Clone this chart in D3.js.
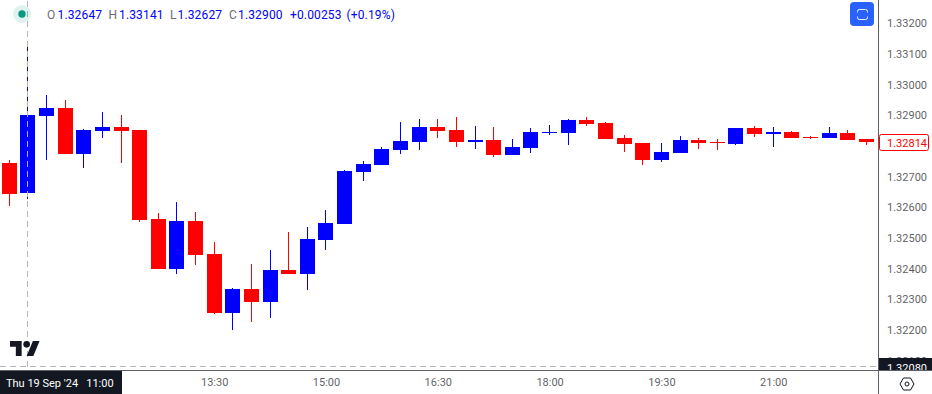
<!DOCTYPE html>
<html>
<head>
<meta charset="utf-8">
<script src="https://cdn.jsdelivr.net/npm/d3@7"></script>
<style>
  html, body { margin: 0; padding: 0; background: #fff; overflow: hidden; }
  svg { display: block; font-family: Roboto, "Liberation Sans", sans-serif; }
</style>
</head>
<body>
<div id="chart"></div>
<script>
// 15 minute candles, first one at 10:45
var opens = [1.32745,1.32647,1.32898,1.32924,1.32774,1.32849,1.32862,1.32852,1.32563,1.32400,1.32556,1.32449,1.32256,1.32335,1.32292,1.32396,1.32384,1.32494,1.32546,1.32716,1.32739,1.32787,1.32813,1.32862,1.32852,1.32813,1.32820,1.32771,1.32794,1.32843,1.32843,1.32885,1.32875,1.32826,1.32810,1.32755,1.32778,1.32820,1.32813,1.32807,1.32859,1.32839,1.32846,1.32830,1.32826,1.32843,1.32823];
var highs = [1.32755,1.33141,1.32966,1.32950,1.32856,1.32911,1.32901,1.32852,1.32582,1.32618,1.32585,1.32488,1.32338,1.32416,1.32462,1.32520,1.32537,1.32592,1.32722,1.32752,1.32797,1.32879,1.32888,1.32888,1.32895,1.32865,1.32862,1.32823,1.32859,1.32869,1.32888,1.32895,1.32879,1.32836,1.32810,1.32810,1.32833,1.32826,1.32823,1.32859,1.32865,1.32862,1.32849,1.32833,1.32862,1.32852,1.32823];
var lows = [1.32605,1.32627,1.32755,1.32774,1.32729,1.32826,1.32745,1.32553,1.32400,1.32384,1.32413,1.32253,1.32201,1.32227,1.32240,1.32384,1.32331,1.32462,1.32546,1.32686,1.32739,1.32774,1.32787,1.32826,1.32797,1.32791,1.32765,1.32771,1.32778,1.32836,1.32804,1.32865,1.32823,1.32781,1.32739,1.32748,1.32778,1.32791,1.32787,1.32804,1.32830,1.32797,1.32826,1.32823,1.32826,1.32820,1.32804];
var closes = [1.32644,1.32900,1.32924,1.32774,1.32852,1.32862,1.32849,1.32559,1.32400,1.32556,1.32445,1.32256,1.32335,1.32292,1.32396,1.32384,1.32497,1.32550,1.32719,1.32742,1.32791,1.32817,1.32862,1.32849,1.32813,1.32820,1.32771,1.32797,1.32846,1.32846,1.32885,1.32872,1.32823,1.32807,1.32755,1.32781,1.32820,1.32810,1.32810,1.32859,1.32839,1.32846,1.32826,1.32826,1.32843,1.32820,1.32814];

// 1.32800 is left out, the last price label sits on it
var priceTicks = [1.332,1.331,1.33,1.329,1.327,1.326,1.325,1.324,1.323,1.322,1.321];
var timeTicks = ["13:30","15:00","16:30","18:00","19:30","21:00"];
var headerParts = [
  { text: "O", x: 47, up: false }, { text: "1.32647", x: 57.5, up: true },
  { text: "H", x: 108.5, up: false }, { text: "1.33141", x: 119, up: true },
  { text: "L", x: 170, up: false }, { text: "1.32627", x: 177.5, up: true },
  { text: "C", x: 229, up: false }, { text: "1.32900", x: 238, up: true },
  { text: "+0.00253", x: 290, up: true }, { text: "(+0.19%)", x: 346.5, up: true }
];

var width = 932, height = 394;
var paneRight = 878, paneBottom = 370;
var upColor = "#0000ff", downColor = "#ff0000", ink = "#131722", axisInk = "#5d606b";

var svg = d3.select("#chart").append("svg")
  .attr("width", width)
  .attr("height", height);

var parseTime = d3.utcParse("%H:%M");
var start = parseTime("10:45");
var candles = opens.map(function(o, i) {
  return { time: d3.utcMinute.offset(start, i * 15), o: o, h: highs[i], l: lows[i], c: closes[i] };
});

var x = d3.scaleUtc()
  .domain([start, parseTime("22:15")])
  .range([9.2, 866.4]);
var y = d3.scaleLinear()
  .domain([1.322, 1.332])
  .range([330, 23.3]);

var bodyWidth = 15;

// candles
var candle = svg.append("g")
  .selectAll("g")
  .data(candles)
  .enter()
  .append("g")
  .attr("fill", function(d) { return d.c >= d.o ? upColor : downColor; })
  .attr("stroke", function(d) { return d.c >= d.o ? upColor : downColor; })
  .attr("shape-rendering", "crispEdges");

candle.append("line")
  .attr("x1", function(d) { return x(d.time); })
  .attr("x2", function(d) { return x(d.time); })
  .attr("y1", function(d) { return y(d.h); })
  .attr("y2", function(d) { return y(d.l); });

candle.append("rect")
  .attr("stroke", "none")
  .attr("x", function(d) { return x(d.time) - bodyWidth / 2; })
  .attr("width", bodyWidth)
  .attr("y", function(d) { return y(Math.max(d.o, d.c)); })
  .attr("height", function(d) { return Math.max(1, Math.abs(y(d.o) - y(d.c))); });

// crosshair sits on top of the candles
var crossX = x(parseTime("11:00"));
var crosshair = svg.append("g")
  .attr("stroke", "#b2b5be")
  .attr("stroke-dasharray", "6 4")
  .attr("shape-rendering", "crispEdges");
crosshair.append("line")
  .attr("x1", crossX).attr("x2", crossX)
  .attr("y1", 0).attr("y2", paneBottom - 2)
  .attr("stroke-dashoffset", 9);
crosshair.append("line")
  .attr("x1", 0).attr("x2", paneRight)
  .attr("y1", y(1.3208)).attr("y2", y(1.3208));

// price axis
var yAxis = d3.axisRight(y)
  .tickValues(priceTicks)
  .tickSize(0)
  .tickPadding(9)
  .tickFormat(d3.format(".5f"));
var yAxisG = svg.append("g")
  .attr("transform", "translate(" + paneRight + ",0)")
  .call(yAxis);
yAxisG.select(".domain").remove();
yAxisG.selectAll("text")
  .attr("font-family", "Roboto, 'Liberation Sans', sans-serif")
  .attr("font-size", 11)
  .attr("fill", ink)
  .attr("fill-opacity", 0.72);

// crosshair price label, cut off by the time strip below
svg.append("rect")
  .attr("x", paneRight).attr("y", 358)
  .attr("width", width - paneRight).attr("height", 20)
  .attr("fill", ink);
svg.append("text")
  .attr("x", paneRight + 9).attr("y", 372)
  .attr("font-size", 11)
  .attr("fill", "#fff")
  .text(d3.format(".5f")(1.3208));

// time strip
svg.append("rect")
  .attr("x", 0).attr("y", paneBottom)
  .attr("width", width).attr("height", height - paneBottom)
  .attr("fill", "#fff");

var xAxis = d3.axisBottom(x)
  .tickValues(timeTicks.map(parseTime))
  .tickSize(0)
  .tickPadding(8)
  .tickFormat(d3.utcFormat("%H:%M"));
var xAxisG = svg.append("g")
  .attr("transform", "translate(0," + paneBottom + ")")
  .call(xAxis);
xAxisG.select(".domain").remove();
xAxisG.selectAll("text")
  .attr("font-family", "Roboto, 'Liberation Sans', sans-serif")
  .attr("font-size", 11)
  .attr("fill", ink)
  .attr("fill-opacity", 0.72);

svg.append("rect")
  .attr("x", 0).attr("y", paneBottom + 1)
  .attr("width", 122).attr("height", height - paneBottom - 1)
  .attr("fill", ink);
svg.append("text")
  .attr("x", 6).attr("y", 387)
  .attr("font-size", 11)
  .attr("fill", "#fff")
  .style("white-space", "pre")
  .text("Thu 19 Sep '24   11:00");

// axis borders
svg.append("line")
  .attr("x1", paneRight + 0.5).attr("x2", paneRight + 0.5)
  .attr("y1", 0).attr("y2", height)
  .attr("stroke", axisInk);
svg.append("line")
  .attr("x1", 0).attr("x2", width)
  .attr("y1", paneBottom + 0.5).attr("y2", paneBottom + 0.5)
  .attr("stroke", axisInk);

// last price label
svg.append("rect")
  .attr("x", paneRight + 1.5).attr("y", 134.5)
  .attr("width", 49).attr("height", 16)
  .attr("rx", 2)
  .attr("fill", "#fff")
  .attr("stroke", downColor);
svg.append("text")
  .attr("x", paneRight + 9).attr("y", 142.8)
  .attr("dy", "0.35em")
  .attr("font-size", 11)
  .attr("fill", downColor)
  .text(d3.format(".5f")(closes[closes.length - 1]));

// header with the hovered candle's values
svg.append("circle")
  .attr("cx", 22).attr("cy", 14).attr("r", 9)
  .attr("fill", "#089981").attr("fill-opacity", 0.13);
svg.append("circle")
  .attr("cx", 22).attr("cy", 14).attr("r", 3.7)
  .attr("fill", "#089981");

svg.append("g")
  .selectAll("text")
  .data(headerParts)
  .enter()
  .append("text")
  .attr("x", function(d) { return d.x; })
  .attr("y", 19)
  .attr("font-size", 12)
  .attr("letter-spacing", 0.15)
  .attr("fill", function(d) { return d.up ? upColor : "#6a6d78"; })
  .text(function(d) { return d.text; });

// fullscreen button
svg.append("rect")
  .attr("x", 850).attr("y", 2)
  .attr("width", 24).attr("height", 24)
  .attr("rx", 4)
  .attr("fill", "#2962ff");
svg.append("path")
  .attr("d", "M857.5 12.5V11.5a2 2 0 0 1 2-2h6a2 2 0 0 1 2 2v1M857.5 16.5v1a2 2 0 0 0 2 2h6a2 2 0 0 0 2-2v-1")
  .attr("fill", "none")
  .attr("stroke", "#fff");

// tradingview logo
var logo = svg.append("g")
  .attr("transform", "translate(10,337.7) scale(0.833)")
  .attr("fill", ink);
logo.append("path").attr("d", "M14 22H7V11H0V4h14v18zM28 22h-8l7.5-18h8L28 22z");
logo.append("circle").attr("cx", 20).attr("cy", 8).attr("r", 4);

// settings hexagon
var gear = svg.append("g")
  .attr("transform", "translate(907,384)")
  .attr("fill", "none")
  .attr("stroke", ink);
gear.append("path").attr("d", "M-7 0L-3.5 -6H3.5L7 0L3.5 6H-3.5Z");
gear.append("circle").attr("r", 2);
</script>
</body>
</html>
